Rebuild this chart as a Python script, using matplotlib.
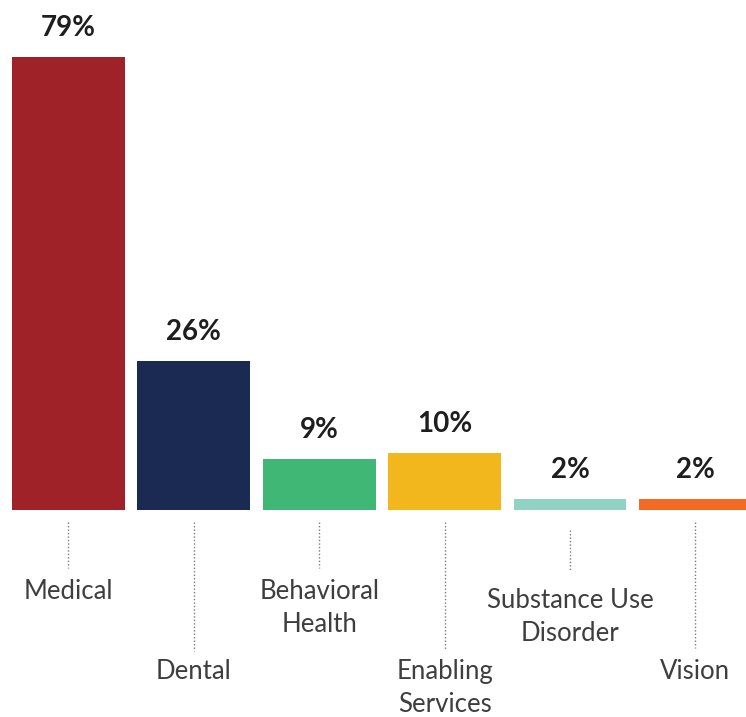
import matplotlib
matplotlib.use("Agg")
import matplotlib.pyplot as plt

# Share of patients served, by service type
categories = ["Medical", "Dental", "Behavioral\nHealth", "Enabling\nServices",
              "Substance Use\nDisorder", "Vision"]
values = [79, 26, 9, 10, 2, 2]
value_labels = ["79%", "26%", "9%", "10%", "2%", "2%"]
colors = ["#9E2228", "#1B2A52", "#41B776", "#F1B71C", "#92D2C5", "#F26A24"]

# Leader-line spans (start, end) below the baseline and label anchor, in axis units
leader_spans = [(-2.1, -10.1), (-2.1, -24.6), (-2.1, -10.1),
                (-2.1, -24.3), (-3.5, -10.5), (-2.1, -24.0)]
label_tops = [-12.0, -26.0, -12.0, -26.0, -13.6, -26.0]

plt.rcParams["font.family"] = ["Lato", "DejaVu Sans"]

fig = plt.figure(figsize=(7.46, 7.17), dpi=100)
ax = fig.add_axes([0, 0, 1, 1])

x = list(range(len(categories)))
ax.bar(x, values, width=0.9, color=colors, zorder=2)

for xi, v, lab in zip(x, values, value_labels):
    ax.annotate(lab, (xi, v), xytext=(0, 15), textcoords="offset points",
                ha="center", va="baseline", fontsize=20, fontweight="bold",
                color="#1E1E1E")

for xi, cat, (y0, y1), ty in zip(x, categories, leader_spans, label_tops):
    ax.plot([xi, xi], [y0, y1], color="#7A7A7A", lw=1.0,
            linestyle=(0, (1, 1.5)), zorder=1)
    ax.text(xi, ty, cat, ha="center", va="top", fontsize=18.5,
            color="#3E3E3E", linespacing=1.4)

ax.set_xlim(-0.546, 5.403)
ax.set_ylim(-36.1, 89.0)
ax.axis("off")

fig.savefig("out.png", dpi=100)
